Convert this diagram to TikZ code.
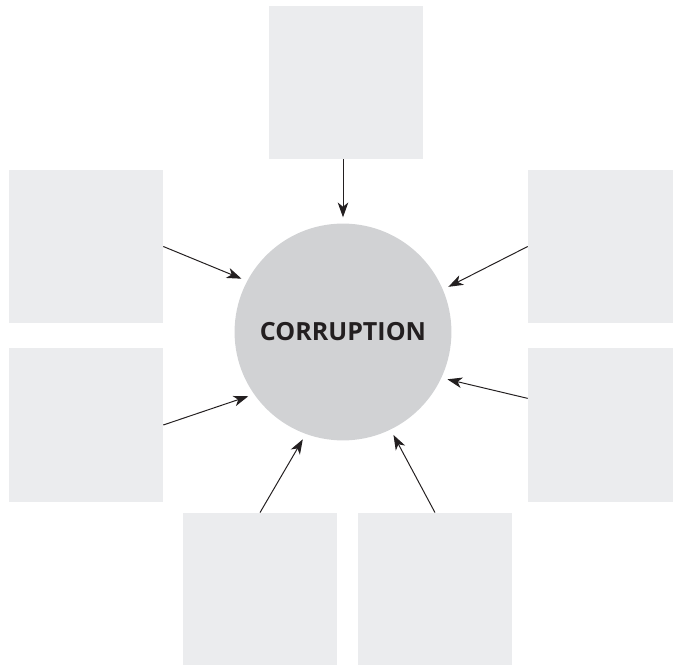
\documentclass[tikz,border=0pt]{standalone}
\usepackage{fontspec}
\setmainfont{Open Sans}
\usetikzlibrary{arrows.meta}
\definecolor{boxgray}{HTML}{EBECEE}
\definecolor{ballgray}{HTML}{D1D2D4}
\definecolor{ink}{HTML}{231F20}
\begin{document}
\begin{tikzpicture}[x=0.025cm,y=0.025cm,
	cause/.style={fill=boxgray,inner sep=0,minimum width=3.85cm,minimum height=3.83cm},
	feed/.style={ink,line width=0.7pt,-{Stealth[length=10.5pt,width=7.5pt,inset=3pt]},shorten >=0.15cm}]
	\useasboundingbox (0,0) rectangle (673,665);
	% the problem in the middle
	\node[circle,fill=ballgray,inner sep=0,minimum size=5.42cm,
		font=\fontsize{17.8}{20}\selectfont\bfseries,text=ink] (c) at (343,333) {CORRUPTION};
	% empty boxes around it
	\node[cause] (top) at (346,582.5) {};
	\node[cause] (lt) at (86,418.5) {};
	\node[cause] (lb) at (86,240) {};
	\node[cause] (rt) at (605,418.5) {};
	\node[cause] (rb) at (605,240) {};
	\node[cause] (bl) at (260,75.5) {};
	\node[cause] (br) at (435,75.5) {};
	% arrows into the circle
	\draw[feed] (c |- top.south) -- (c.90);
	\draw[feed] (lt.east) -- (c.152);
	\draw[feed] (lb.east) -- (c.215);
	\draw[feed] (rt.west) -- (c.23.5);
	\draw[feed] (rb.161) -- (c.-25.5);
	\draw[feed] (bl.north) -- (c.250.5);
	\draw[feed] (br.north) -- (c.-64.5);
\end{tikzpicture}
\end{document}
